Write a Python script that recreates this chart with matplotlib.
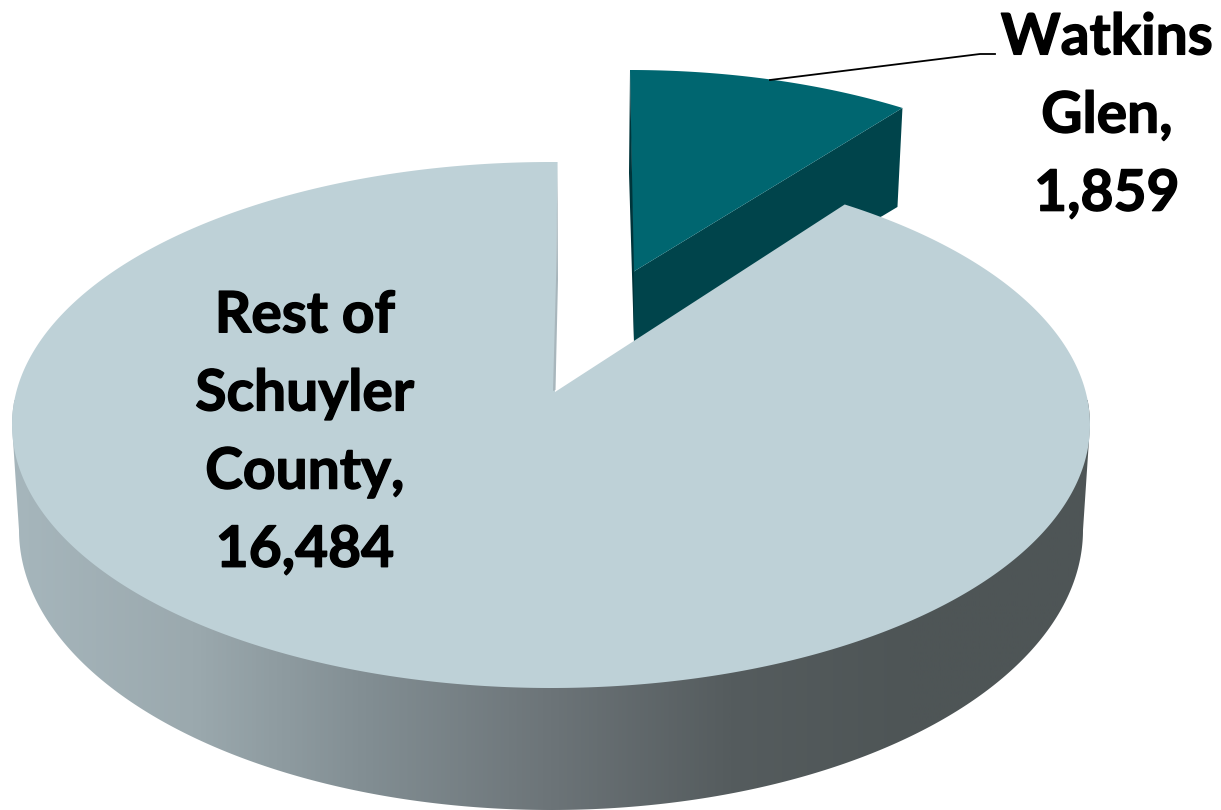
import numpy as np
import matplotlib
matplotlib.use('Agg')
import matplotlib.pyplot as plt
import matplotlib.patheffects as pe
from matplotlib.colors import LinearSegmentedColormap
from matplotlib.patches import Polygon

plt.rcParams['font.family'] = ['Lato', 'Open Sans', 'DejaVu Sans']

# Dados
categorias = ['Watkins\nGlen', 'Rest of\nSchuyler\nCounty']
valores = [1859, 16484]
cor_topo = ['#006670', '#bed1d7']
cor_lado = '#00444b'
cor_borda = '#00343a'
cores_gradiente = ['#a6b6bc', '#9ba9ae', '#818d92', '#6c7478', '#555c5e', '#4e5556', '#4e5556']

# Geometria da pizza 3D em pixels (y para baixo)
CENTRO = (551, 425)
RAIO = (539, 263)
APICE = (555, 392)
BASE_CENTRO = (551, 530)
BASE_RAIO = (532, 280)
FATIA_CENTRO = (630, 305)
FATIA_RAIO = (500, 235)
FATIA_APICE = (633, 272)
PERSPECTIVA = 0.905  # a perspectiva encurta o angulo da fatia de tras


def arco(centro, raio, t0, t1, n=300):
    # Angulo em graus, sentido horario a partir do topo
    t = np.radians(np.linspace(t0, t1, n))
    return np.column_stack([centro[0] + raio[0] * np.sin(t), centro[1] - raio[1] * np.cos(t)])


angulo = 360 * valores[0] / sum(valores) * PERSPECTIVA

fig = plt.figure(figsize=(12.21, 8.10), dpi=100)
ax = fig.add_axes([0, 0, 1, 1])
ax.set_xlim(0, 1221)
ax.set_ylim(810, 0)
ax.axis('off')

# Lateral da pizza grande com gradiente
lateral = np.vstack([arco(BASE_CENTRO, BASE_RAIO, 270, 90),
                     arco(CENTRO, RAIO, 90, -90)])
contorno = Polygon(lateral, closed=True, facecolor='none', edgecolor='none')
ax.add_patch(contorno)
cmap = LinearSegmentedColormap.from_list('lado', cores_gradiente)
gradiente = np.linspace(0, 1, 512).reshape(1, -1)
img = ax.imshow(gradiente, cmap=cmap, extent=(12, 1090, 810, 400), aspect='auto', zorder=1)
img.set_clip_path(contorno)
ax.set_xlim(0, 1221)
ax.set_ylim(810, 0)

# Fatia destacada
arco_fatia = arco(FATIA_CENTRO, FATIA_RAIO, 0, angulo)
canto = arco_fatia[-1]
fundo_fatia = (FATIA_APICE[0] + 1, FATIA_APICE[1] + 70)
lado_fatia = [FATIA_APICE, canto, canto + [-5, 99], canto + [-20, 108], fundo_fatia]
ax.add_patch(Polygon(lado_fatia, closed=True, facecolor=cor_lado, edgecolor='none', zorder=2))
ax.add_patch(Polygon(np.vstack([[FATIA_APICE], arco_fatia]), closed=True,
                     facecolor=cor_topo[0], edgecolor='none', zorder=3))
borda = [arco_fatia[0], (629, 173), fundo_fatia, (FATIA_APICE[0] + 1, FATIA_APICE[1]), (632, 173)]
ax.add_patch(Polygon(borda, closed=True, facecolor=cor_borda, edgecolor='none', zorder=4))

# Topo da pizza grande
topo = np.vstack([[APICE], arco(CENTRO, RAIO, angulo, 360.7, 800)])
ax.add_patch(Polygon(topo, closed=True, facecolor=cor_topo[1], edgecolor='none', zorder=5))
ax.add_patch(Polygon([(557.5, 165), (558, 280), (555.5, 390), (553, 391), (556, 280)], closed=True,
                     facecolor='#a8b6bc', edgecolor='none', zorder=6))

# Linha de chamada
ax.plot([770, 980, 995], [80, 54, 54], color='black', lw=1.3, zorder=7)

# Rotulos
fonte = dict(fontsize=41, fontweight='bold', color='black', ha='center', va='center',
             linespacing=1.585, zorder=8,
             path_effects=[pe.withStroke(linewidth=1.0, foreground='black')])
ax.text(1107, 116, f'{categorias[0]},\n{valores[0]:,}', **fonte)
ax.text(305, 433, f'{categorias[1]},\n{valores[1]:,}', **fonte)

fig.savefig('out.png', dpi=100)
